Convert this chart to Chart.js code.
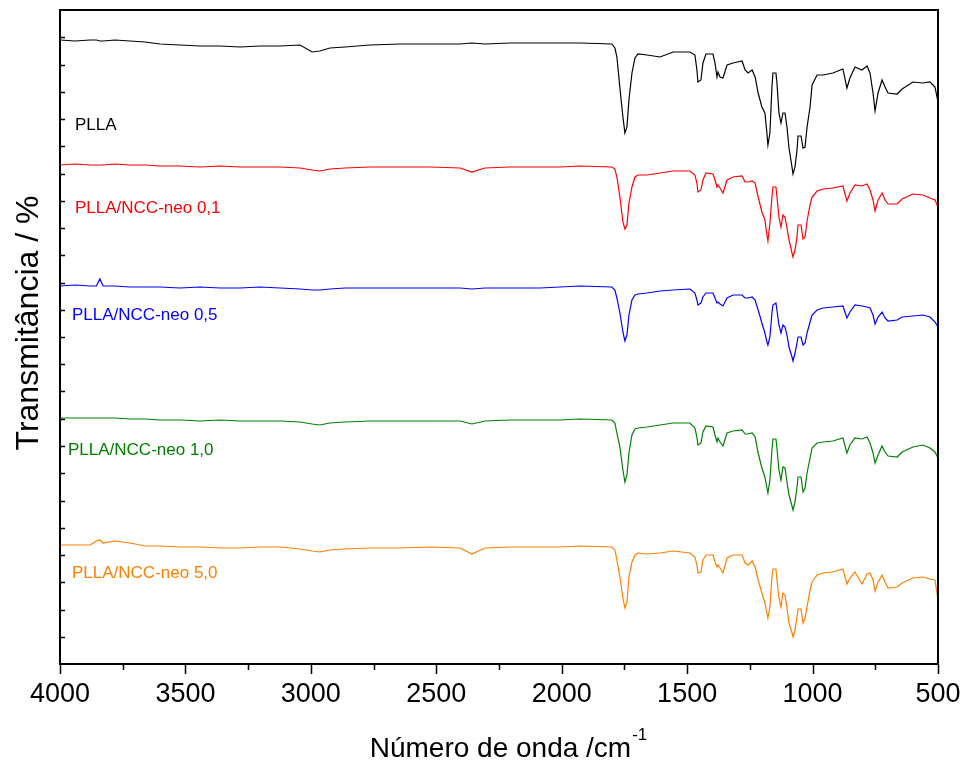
<!DOCTYPE html>
<html>
<head>
<meta charset="utf-8">
<script src="https://cdn.jsdelivr.net/npm/chart.js@4/dist/chart.umd.min.js"></script>
<style>
  html, body { margin: 0; padding: 0; background: #fff; }
  #wrap { width: 960px; height: 763px; }
</style>
</head>
<body>
<div id="wrap"><canvas id="ftir" width="960" height="763"></canvas></div>
<script>
// wavenumbers (cm-1), shared by all spectra
const wavenumbers = [4000, 3940, 3880, 3855, 3841, 3828, 3781, 3721, 3661, 3601, 3522, 3442, 3362, 3282, 3203, 3123, 3043, 2995, 2964, 2924, 2864, 2764, 2645, 2525, 2405, 2358, 2306, 2206, 2087, 2007,
  1927, 1800, 1788, 1780, 1768, 1756, 1748, 1740, 1732, 1720, 1708, 1696, 1660, 1608, 1556, 1489, 1469, 1461, 1457, 1445, 1437, 1425, 1397, 1389, 1381, 1377, 1369, 1357, 1341, 1317,
  1281, 1269, 1257, 1241, 1229, 1217, 1202, 1190, 1182, 1178, 1170, 1162, 1158, 1146, 1142, 1134, 1126, 1118, 1110, 1102, 1094, 1082, 1078, 1070, 1062, 1058, 1046, 1038, 1030, 1022,
  1010, 1002, 982, 958, 919, 879, 863, 851, 831, 803, 783, 771, 759, 751, 739, 723, 711, 699, 663, 643, 600, 560, 532, 512, 500];

// transmittance, arbitrary offset units (stacked spectra)
const pllaT = [624, 623, 624, 624, 623, 623, 624, 623, 622, 620, 619, 618, 618, 617, 618, 618, 619, 612, 613, 616, 617, 619, 620, 620, 620, 621, 620, 621, 621, 621,
  621, 620, 616, 607, 576, 547, 531, 537, 564, 591, 606, 610, 609, 607, 612, 612, 609, 594, 582, 584, 601, 610, 610, 601, 587, 592, 587, 586, 599, 601,
  603, 594, 591, 594, 587, 571, 557, 551, 531, 519, 531, 577, 591, 591, 581, 551, 541, 551, 551, 537, 516, 497, 490, 497, 514, 528, 528, 516, 517, 537,
  557, 579, 589, 589, 591, 595, 576, 586, 597, 594, 598, 591, 571, 553, 571, 584, 577, 571, 570, 575, 582, 581, 582, 577, 562];

const neo01T = [499, 500, 499, 499, 499, 499, 500, 499, 499, 498, 498, 497, 498, 497, 497, 497, 496, 494, 493, 495, 496, 497, 497, 497, 496, 492, 496, 497, 497, 497,
  498, 497, 495, 487, 467, 442, 435, 439, 461, 477, 487, 489, 489, 491, 493, 493, 489, 481, 472, 474, 484, 491, 490, 484, 477, 479, 476, 471, 484, 487,
  488, 482, 482, 483, 481, 467, 452, 444, 429, 423, 441, 467, 477, 477, 467, 447, 437, 449, 447, 436, 424, 411, 407, 414, 427, 439, 439, 425, 427, 443,
  459, 467, 473, 475, 476, 478, 463, 471, 479, 478, 480, 474, 464, 453, 464, 471, 464, 460, 460, 465, 470, 469, 466, 464, 457];

const neo05T = [378, 379, 378, 378, 385, 378, 378, 377, 377, 377, 376, 377, 376, 376, 377, 376, 375, 374, 374, 375, 376, 376, 376, 376, 376, 375, 376, 376, 376, 377,
  378, 377, 374, 366, 351, 332, 323, 329, 349, 364, 369, 370, 371, 373, 374, 375, 371, 364, 359, 361, 367, 371, 371, 366, 361, 362, 360, 358, 366, 369,
  369, 366, 366, 367, 364, 354, 341, 331, 322, 319, 327, 351, 359, 361, 354, 339, 331, 339, 337, 329, 317, 307, 303, 311, 321, 327, 327, 319, 321, 331,
  342, 349, 354, 356, 357, 358, 346, 352, 359, 358, 357, 356, 349, 340, 347, 352, 346, 343, 344, 347, 348, 349, 347, 342, 337];

const neo10T = [246, 246, 246, 246, 246, 246, 246, 245, 245, 244, 244, 243, 244, 243, 243, 243, 242, 240, 239, 241, 242, 243, 243, 243, 243, 240, 243, 244, 244, 244,
  245, 244, 241, 231, 217, 194, 182, 189, 211, 229, 235, 236, 237, 239, 241, 241, 236, 227, 219, 221, 232, 238, 237, 229, 222, 226, 222, 218, 231, 233,
  234, 230, 230, 231, 227, 211, 196, 187, 176, 171, 184, 214, 225, 225, 216, 194, 184, 197, 196, 182, 169, 158, 154, 162, 177, 187, 187, 172, 176, 191,
  206, 216, 221, 222, 223, 226, 211, 219, 226, 225, 227, 221, 211, 201, 209, 218, 212, 208, 207, 212, 217, 219, 216, 212, 206];

const neo50T = [119, 119, 119, 123, 124, 121, 123, 121, 118, 118, 117, 117, 116, 116, 117, 117, 115, 113, 112, 114, 115, 116, 116, 117, 116, 110, 116, 117, 117, 117,
  118, 117, 114, 104, 87, 66, 56, 62, 87, 102, 109, 111, 110, 111, 113, 111, 107, 99, 91, 92, 104, 109, 109, 102, 97, 99, 96, 91, 106, 109,
  109, 101, 99, 103, 97, 84, 71, 61, 51, 46, 57, 87, 95, 95, 84, 66, 57, 71, 69, 56, 41, 31, 27, 34, 47, 55, 55, 41, 46, 57,
  74, 82, 89, 91, 92, 95, 80, 86, 92, 80, 90, 91, 84, 73, 82, 89, 82, 76, 77, 81, 86, 87, 85, 84, 64];

const sampleNames = ["PLLA", "PLLA/NCC-neo 0,1", "PLLA/NCC-neo 0,5", "PLLA/NCC-neo 1,0", "PLLA/NCC-neo 5,0"];
const sampleColors = ["#000000", "#ff0000", "#0000ff", "#008000", "#ff8000"];
const xTickValues = [4000, 3500, 3000, 2500, 2000, 1500, 1000, 500];

const series = [pllaT, neo01T, neo05T, neo10T, neo50T];
const labelSpots = [[75, 125], [75, 208], [72, 315], [68, 450], [72, 573]];
const narrow = "'Liberation Sans Narrow', 'Liberation Sans', Arial, sans-serif";
const plain = "'Liberation Sans', Arial, sans-serif";

var datasets = series.map(function (vals, i) {
    return {
        label: sampleNames[i],
        data: vals.map(function (v, k) { return { x: wavenumbers[k], y: v }; }),
        borderColor: sampleColors[i],
        borderWidth: 1.2,
        pointRadius: 0,
        tension: 0,
        fill: false
    };
});

// frame, ticks, titles and the sample labels
const decor = {
    id: 'decor',
    afterDraw: function (chart) {
        var ctx = chart.ctx;
        var a = chart.chartArea;
        var xs = chart.scales.x, ys = chart.scales.y;
        ctx.save();
        ctx.strokeStyle = '#000';
        ctx.lineWidth = 2;
        ctx.strokeRect(a.left, a.top, a.right - a.left, a.bottom - a.top);

        ctx.lineWidth = 1.5;
        ctx.beginPath();
        for (var w = 500; w <= 4000; w += 250) {
            var px = Math.round(xs.getPixelForValue(w)) + 0.5;
            var len = (w % 500 === 0) ? 10 : 6;
            ctx.moveTo(px, a.bottom);
            ctx.lineTo(px, a.bottom + len);
        }
        for (var t = 1; t < 24; t++) {
            var py = Math.round(ys.getPixelForValue(t * 654 / 24)) + 0.5;
            ctx.moveTo(a.left, py);
            ctx.lineTo(a.left + 5, py);
        }
        ctx.stroke();

        ctx.fillStyle = '#000';
        ctx.textBaseline = 'alphabetic';
        ctx.font = "28px " + narrow;
        var main = "Número de onda /cm";
        var mw = ctx.measureText(main).width;
        ctx.font = "17px " + narrow;
        var sw = ctx.measureText("-1").width;
        var x0 = 508 - (mw + sw) / 2;
        ctx.font = "28px " + narrow;
        ctx.textAlign = 'left';
        ctx.fillText(main, x0, 757);
        ctx.font = "17px " + narrow;
        ctx.fillText("-1", x0 + mw + 1, 740);

        ctx.save();
        ctx.translate(38, 323);
        ctx.rotate(-Math.PI / 2);
        ctx.font = "32px " + narrow;
        ctx.textAlign = 'center';
        ctx.fillText("Transmitância / %", 0, 0);
        ctx.restore();

        ctx.font = "17px " + plain;
        ctx.textAlign = 'left';
        ctx.textBaseline = 'middle';
        sampleNames.forEach(function (name, i) {
            ctx.fillStyle = sampleColors[i];
            ctx.fillText(name, labelSpots[i][0], labelSpots[i][1]);
        });
        ctx.restore();
    }
};

window.onload = function () {
    var ctx = document.getElementById("ftir").getContext("2d");
    window.myChart = new Chart(ctx,
        {
            type: 'line',
            data: { datasets: datasets },
            options: {
                responsive: false,
                animation: false,
                layout: { padding: { left: 60, right: 22, top: 10, bottom: 0 } },
                plugins: {
                    legend: { display: false },
                    tooltip: { enabled: false },
                    title: { display: false }
                },
                scales: {
                    x: {
                        type: 'linear',
                        reverse: true,
                        min: 500,
                        max: 4000,
                        afterBuildTicks: function (s) {
                            s.ticks = xTickValues.map(function (v) { return { value: v }; });
                        },
                        afterFit: function (s) {
                            s.height = 99;
                            s.paddingLeft = 0;
                            s.paddingRight = 0;
                        },
                        grid: { display: false, drawTicks: false },
                        border: { display: false },
                        ticks: {
                            autoSkip: false,
                            maxRotation: 0,
                            padding: 14,
                            color: '#000',
                            font: { family: narrow, size: 27 },
                            callback: function (v) { return String(v); }
                        }
                    },
                    y: {
                        display: false,
                        min: 0,
                        max: 654
                    }
                }
            },
            plugins: [decor]
        });
};
</script>
</body>
</html>
